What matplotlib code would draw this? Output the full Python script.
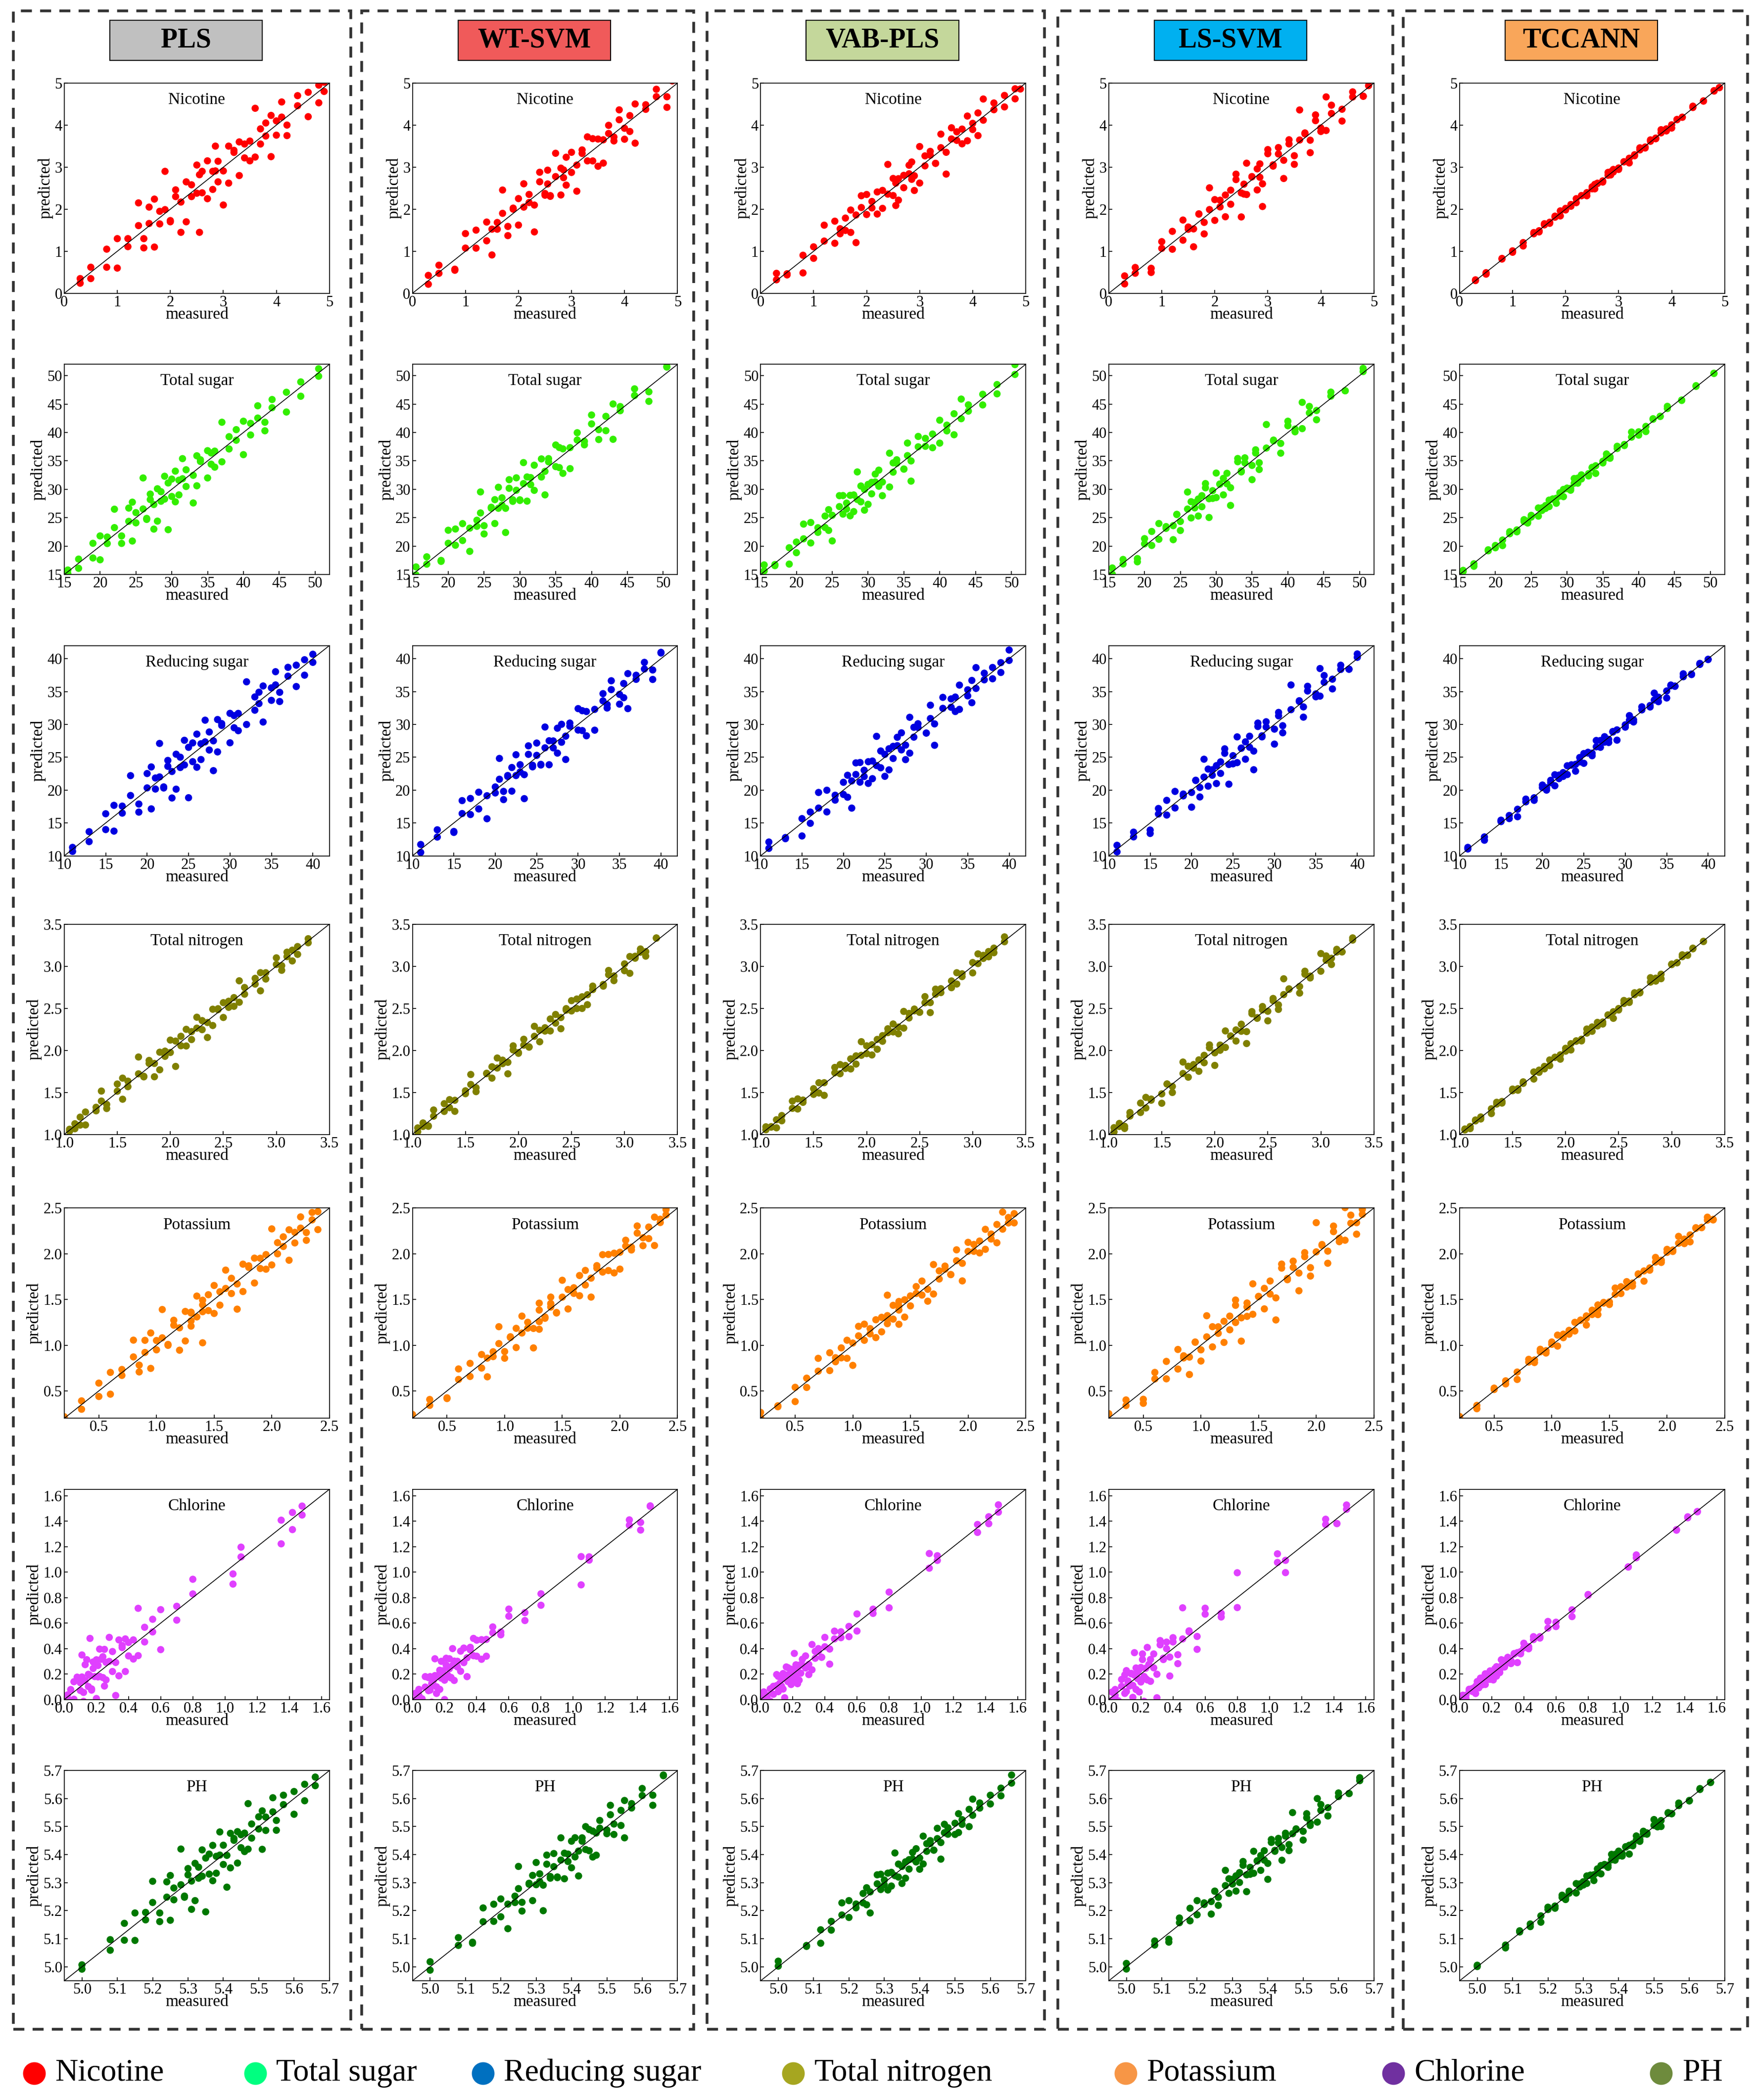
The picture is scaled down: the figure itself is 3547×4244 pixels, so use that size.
import matplotlib
matplotlib.use("Agg")
import matplotlib.pyplot as plt
import numpy as np
from matplotlib.patches import Rectangle
from matplotlib.lines import Line2D

plt.rcParams['font.family'] = ['Liberation Serif', 'DejaVu Serif']

methods = ["PLS", "WT-SVM", "VAB-PLS", "LS-SVM", "TCCANN"]
method_colors = ["#c0c0c0", "#f05a5a", "#c4d79b", "#00b0f0", "#f9a65a"]
properties = ["Nicotine", "Total sugar", "Reducing sugar", "Total nitrogen", "Potassium", "Chlorine", "PH"]
point_colors = ["#ff0000", "#33ee00", "#0000e0", "#808000", "#ff8000", "#e040ff", "#007800"]
legend_colors = ["#ff0000", "#00ff80", "#0070c0", "#a6a620", "#f79646", "#7030a0", "#6e8b3d"]
limits = [(0, 5), (15, 52), (10, 42), (1.0, 3.5), (0.2, 2.5), (0.0, 1.65), (4.95, 5.7)]
ticks = [[0, 1, 2, 3, 4, 5], [15, 20, 25, 30, 35, 40, 45, 50], [10, 15, 20, 25, 30, 35, 40],
         [1.0, 1.5, 2.0, 2.5, 3.0, 3.5], [0.5, 1.0, 1.5, 2.0, 2.5],
         [0.0, 0.2, 0.4, 0.6, 0.8, 1.0, 1.2, 1.4, 1.6], [5.0, 5.1, 5.2, 5.3, 5.4, 5.5, 5.6, 5.7]]

nicotine_meas = [0.3,0.5,0.8,1.0,1.2,1.4,1.5,1.6,1.7,1.8,1.9,2.0,2.1,2.2,2.3,2.4,2.5,2.55,2.6,2.7,2.8,2.85,2.9,3.0,3.1,3.2,3.3,3.4,3.5,3.6,3.7,3.8,3.9,4.0,4.1,4.2,4.4,4.6,4.8,4.9]
total_sugar_meas = [15.5,17,19,20,21,22,23,24,24.5,25,26,26.5,27,27.5,28,28.5,29,29.5,30,30.5,31,31.5,32,33,33.5,34,35,35.5,36,37,38,39,40,41,42,43,44,46,48,50.5]
reducing_sugar_meas = [11,13,15,16,17,18,19,20,20.5,21,21.5,22,22.5,23,23.5,24,24.5,25,25.5,26,26.5,27,27.5,28,28.5,29,30,30.5,31,32,33,33.5,34,35,35.5,36,37,38,39,40]
total_nitrogen_meas = [1.05,1.1,1.15,1.2,1.3,1.35,1.4,1.5,1.55,1.6,1.7,1.75,1.8,1.85,1.9,1.95,2.0,2.05,2.1,2.15,2.2,2.25,2.3,2.35,2.4,2.45,2.5,2.55,2.6,2.65,2.7,2.8,2.85,2.9,3.0,3.05,3.1,3.15,3.2,3.3]
potassium_meas = [0.2,0.35,0.5,0.6,0.7,0.8,0.85,0.9,0.95,1.0,1.05,1.1,1.15,1.2,1.25,1.3,1.35,1.4,1.45,1.5,1.55,1.6,1.65,1.7,1.75,1.8,1.85,1.9,1.95,2.0,2.05,2.1,2.15,2.2,2.25,2.3,2.35,2.4,1.3,1.4]
chlorine_meas = [0.02,0.04,0.06,0.08,0.1,0.11,0.12,0.13,0.14,0.15,0.16,0.17,0.18,0.19,0.2,0.21,0.22,0.23,0.24,0.25,0.26,0.28,0.3,0.32,0.34,0.36,0.38,0.4,0.43,0.46,0.5,0.55,0.6,0.7,0.8,1.05,1.1,1.35,1.42,1.48]
ph_meas = [5.0,5.08,5.12,5.15,5.18,5.2,5.22,5.24,5.25,5.26,5.28,5.29,5.3,5.31,5.32,5.33,5.34,5.35,5.36,5.37,5.38,5.39,5.4,5.41,5.42,5.43,5.44,5.45,5.46,5.47,5.48,5.5,5.51,5.52,5.54,5.55,5.57,5.6,5.63,5.66]
measured = [nicotine_meas, total_sugar_meas, reducing_sugar_meas, total_nitrogen_meas, potassium_meas, chlorine_meas, ph_meas]

resid_a = [0.1,-0.3,0.5,-0.8,0.2,1.5,-0.4,0.9,-1.2,0.3,2.0,-0.6,0.4,-1.5,0.7,-0.2,1.1,-2.2,0.6,-0.9,0.2,1.3,-0.5,-1.8,0.8,0.4,-1.0,0.3,-0.7,1.6,-0.3,0.5,-1.3,0.2,0.9,-0.4,0.6,-0.8,0.3,-0.2]
resid_b = [-0.2,0.4,-0.6,1.0,-0.3,0.7,-1.4,0.2,1.8,-0.5,0.3,-0.9,1.2,-0.1,-2.0,0.6,-0.4,0.9,-0.7,1.5,-1.1,0.2,0.8,-0.3,-1.6,0.5,1.0,-0.6,0.4,-1.2,0.7,-0.2,1.1,-0.8,0.3,-1.5,0.2,0.6,-0.9,0.4]
resid_c = [0.5,-0.1,-0.9,0.3,1.2,-0.6,0.1,-0.3,0.8,-1.7,0.4,1.0,-0.2,0.6,-0.8,1.9,-0.5,0.2,-1.1,0.3,0.7,-0.4,-1.3,1.4,-0.2,0.5,-0.6,1.1,-1.9,0.2,0.4,-0.7,0.9,-0.3,-1.0,1.2,-0.1,0.3,-0.5,0.6]

# spread of predictions around the diagonal, per property (rows) and method (cols)
spreads = [[0.50, 0.42, 0.35, 0.38, 0.05],
           [3.0, 2.8, 2.4, 2.2, 0.6],
           [2.8, 2.4, 2.2, 2.0, 0.7],
           [0.11, 0.09, 0.08, 0.10, 0.035],
           [0.17, 0.14, 0.13, 0.17, 0.05],
           [0.16, 0.10, 0.08, 0.13, 0.035],
           [0.07, 0.06, 0.04, 0.04, 0.014]]
patterns = [(resid_a, resid_b), (resid_b, resid_c), (resid_c, resid_a), (resid_a[::-1], resid_c), (resid_b[::-1], resid_a)]

W, H = 1311.0, 1568.0
fig = plt.figure(figsize=(35.48, 42.44), dpi=100)

col_left = [48, 308, 568, 828, 1090]
row_top = [62, 272, 482, 690, 902, 1112, 1322]
aw, ah = 198, 157
boxes = [(10, 262), (270, 518), (528, 780), (790, 1040), (1048, 1305)]

for (x0, x1) in boxes:
    fig.patches.append(Rectangle((x0 / W, 1 - 1515 / H), (x1 - x0) / W, (1515 - 8) / H,
                                 transform=fig.transFigure, fill=False, ls=(0, (4, 3)), lw=4, ec="#333333"))

for j, m in enumerate(methods):
    cx = (col_left[j] + aw / 2 - 8) / W
    bw, bh = 114 / W, 30 / H
    fig.patches.append(Rectangle((cx - bw / 2, 1 - 45 / H), bw, bh, transform=fig.transFigure,
                                 fc=method_colors[j], ec="black", lw=1.5))
    fig.text(cx, 1 - 30 / H, m, ha="center", va="center", fontsize=40, fontweight="bold")
    for i, p in enumerate(properties):
        ax = fig.add_axes([col_left[j] / W, 1 - (row_top[i] + ah) / H, aw / W, ah / H])
        x = np.array(measured[i])
        ra, rb = patterns[j]
        s = spreads[i][j]
        y1 = x + np.array(ra) * s
        y2 = x + np.array(rb) * s * 0.6
        ax.scatter(np.concatenate([x, x]), np.concatenate([y1, y2]), s=110, color=point_colors[i],
                   edgecolors="none", zorder=2)
        lo, hi = limits[i]
        ax.plot([lo, hi], [lo, hi], color="black", lw=1.2, zorder=3)
        ax.set_xlim(lo, hi)
        ax.set_ylim(lo, hi)
        ax.set_xticks(ticks[i])
        ax.set_yticks(ticks[i])
        ax.tick_params(labelsize=22, direction="in", length=5, width=1.2, pad=3)
        ax.text(0.5, 0.92, p, transform=ax.transAxes, ha="center", va="center", fontsize=24)
        ax.set_xlabel("measured", fontsize=24, labelpad=-4)
        ax.set_ylabel("predicted", fontsize=24, labelpad=2)
        for sp in ax.spines.values():
            sp.set_linewidth(1.2)

leg_x = [15, 180, 350, 582, 830, 1030, 1230]
for k, p in enumerate(properties):
    x = leg_x[k] / W
    y = 1 - 1548 / H
    fig.add_artist(Line2D([x + 0.008], [y], marker="o", markersize=32, color=legend_colors[k],
                          transform=fig.transFigure, ls="none"))
    fig.text(x + 0.02, y, p, ha="left", va="center", fontsize=46)

fig.savefig("out.png", dpi=100)
